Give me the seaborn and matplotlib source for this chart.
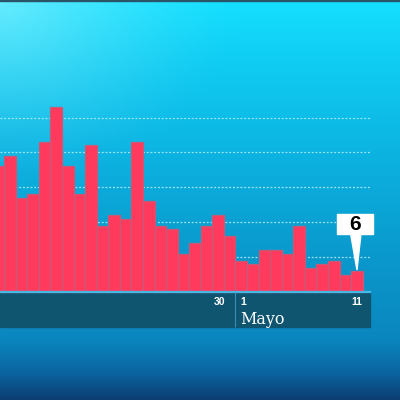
import numpy as np
import matplotlib
matplotlib.use("Agg")
import matplotlib.pyplot as plt
import seaborn as sns
import pandas as pd
from matplotlib.colors import to_rgb
from matplotlib.patches import Rectangle, Polygon

# daily values, 10 April .. 11 May
days = [f"{d} abr" for d in range(10, 31)] + [f"{d} may" for d in range(1, 12)]
cases = [36, 39, 27, 28, 43, 53, 36, 28, 42, 19,
         22, 21, 43, 26, 19, 18, 11, 14, 19, 22,
         16, 9, 8, 12, 12, 11, 19, 7, 8, 9, 5, 6]
grid_values = [10, 20, 30, 40, 50]
tick_labels = {"30 abr": "30", "1 may": "1", "11 may": "11"}
month_label = "Mayo"

df = pd.DataFrame({"dia": days, "casos": cases})

fig = plt.figure(figsize=(4, 4), dpi=100)

# background gradient
bg = fig.add_axes([0, 0, 1, 1], zorder=0)
stops_y = [0, 60, 150, 250, 340, 372, 400]
stops_c = ["#14e0ff", "#10cdf3", "#0cb4e2", "#0a9acd", "#0a86be", "#0b64a0", "#0c3c70"]
rgb = np.array([to_rgb(c) for c in stops_c])
yy = np.arange(400)
col = np.stack([np.interp(yy, stops_y, rgb[:, k]) for k in range(3)], axis=1)
img = np.repeat(col[:, None, :], 400, axis=1)
gx, gy = np.meshgrid(np.arange(400), np.arange(400))
w = np.clip(1 - np.sqrt(gx ** 2 + 1.6 * gy ** 2) / 240, 0, 1) ** 1.4 * 0.5
img = img * (1 - w[..., None]) + w[..., None] * np.array([0.72, 0.97, 1.0])
bg.imshow(img, extent=[0, 1, 0, 1], origin="upper", aspect="auto")
bg.add_patch(Rectangle((0, 0.9965), 1, 0.0035, color="#2a5468"))
bg.set_xlim(0, 1)
bg.set_ylim(0, 1)
bg.set_axis_off()

# chart
ax = fig.add_axes([0, 0, 1, 1], zorder=1)
ax.patch.set_alpha(0)
sns.barplot(data=df, x="dia", y="casos", color="#ff3a5c", saturation=1,
            width=1.0, edgecolor="#c65a7a", linewidth=0.9, zorder=2, ax=ax)

x_left = 0.144
band_right = len(days) - 0.5 + 0.67
ax.set_xlim(x_left, 34.72)
ax.set_ylim(-30.95, 83.67)
ax.set_axis_off()

ax.hlines(grid_values, x_left, band_right, colors="#b0eeff",
          linestyles=(0, (1.5, 1.5)), lw=0.9, alpha=0.9, zorder=1)

# date band
ax.add_patch(Rectangle((x_left, -10), band_right - x_left, 10,
                       color="#0f5570", zorder=1.5))
ax.plot([x_left, band_right], [0, 0], color="#45b8e6", lw=1.6, zorder=3)
may1 = days.index("1 may")
ax.vlines(may1 - 0.52, -10, 0, color="#3a8fb0", lw=0.8, zorder=3)

for key, lab in tick_labels.items():
    i = days.index(key)
    if lab == "30":
        ax.text(i - 0.41, -2.9, lab, ha="right", va="center", color="white",
                fontsize=7.5, fontweight="bold", family="Liberation Sans", zorder=4)
    elif lab == "1":
        ax.text(i - 0.05, -2.9, lab, ha="left", va="center", color="white",
                fontsize=7.5, fontweight="bold", family="Liberation Sans", zorder=4)
    else:
        ax.text(i + 0.43, -2.9, lab, ha="right", va="center", color="white",
                fontsize=7.5, fontweight="bold", family="Liberation Sans", zorder=4)
ax.text(may1 - 0.12, -9.2, month_label, ha="left", va="baseline", color="white",
        fontsize=11.5, family="DejaVu Serif", zorder=4)

# callout for last value
lx = len(cases) - 1
lv = cases[-1]
ax.add_patch(Rectangle((lx - 1.75, lv + 10.6), 3.13, 5.7, color="white", zorder=5))
ax.add_patch(Polygon([(lx - 0.55, lv + 10.7), (lx + 0.35, lv + 10.7), (lx, lv + 0.3)],
                     closed=True, color="white", zorder=5))
ax.text(lx - 0.18, lv + 13.4, str(lv), ha="center", va="center", color="black",
        fontsize=15, fontweight="bold", family="Liberation Sans", zorder=6)

fig.savefig("out.png", dpi=100)
